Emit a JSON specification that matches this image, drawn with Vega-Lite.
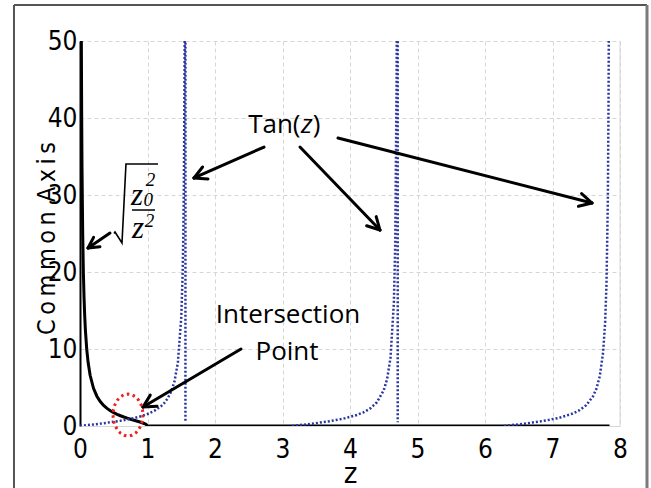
{
  "$schema": "https://vega.github.io/schema/vega-lite/v6.json",
  "width": 540,
  "height": 385,
  "autosize": {"type": "none"},
  "padding": {"left": 80, "top": 41, "right": 31, "bottom": 62},
  "background": "white",
  "config": {"view": {"stroke": null}},
  "datasets": {
    "edge": [{"x": 8, "y": 0, "x2": 8, "y2": 50}],
    "sqrtc": [
      {"x": 0.0195, "y": 51.3}, {"x": 0.02, "y": 49.99}, {"x": 0.025, "y": 39.99}, {"x": 0.03, "y": 33.32},
      {"x": 0.04, "y": 24.98}, {"x": 0.05, "y": 19.97}, {"x": 0.06, "y": 16.64}, {"x": 0.07, "y": 14.25},
      {"x": 0.08, "y": 12.46}, {"x": 0.1, "y": 9.95}, {"x": 0.12, "y": 8.27}, {"x": 0.15, "y": 6.59},
      {"x": 0.2, "y": 4.9}, {"x": 0.25, "y": 3.87}, {"x": 0.3, "y": 3.18}, {"x": 0.35, "y": 2.68},
      {"x": 0.4, "y": 2.29}, {"x": 0.45, "y": 1.98}, {"x": 0.5, "y": 1.732}, {"x": 0.55, "y": 1.518},
      {"x": 0.6, "y": 1.333}, {"x": 0.65, "y": 1.169}, {"x": 0.7, "y": 1.02}, {"x": 0.75, "y": 0.882},
      {"x": 0.8, "y": 0.75}, {"x": 0.85, "y": 0.62}, {"x": 0.9, "y": 0.484}, {"x": 0.95, "y": 0.329},
      {"x": 0.98, "y": 0.203}, {"x": 1.0, "y": 0}, {"x": 7.845, "y": 0}
    ],
    "tan": [
      {"b": 1, "i": 1, "x": 0, "y": 0}, {"b": 1, "i": 2, "x": 0.1, "y": 0.1003}, {"b": 1, "i": 3, "x": 0.2, "y": 0.2027},
      {"b": 1, "i": 4, "x": 0.3, "y": 0.3093}, {"b": 1, "i": 5, "x": 0.4, "y": 0.4228}, {"b": 1, "i": 6, "x": 0.5, "y": 0.5463},
      {"b": 1, "i": 7, "x": 0.6, "y": 0.6841}, {"b": 1, "i": 8, "x": 0.7, "y": 0.8423}, {"b": 1, "i": 9, "x": 0.8, "y": 1.0296},
      {"b": 1, "i": 10, "x": 0.9, "y": 1.2602}, {"b": 1, "i": 11, "x": 1.0, "y": 1.5574}, {"b": 1, "i": 12, "x": 1.1, "y": 1.9648},
      {"b": 1, "i": 13, "x": 1.2, "y": 2.5722}, {"b": 1, "i": 14, "x": 1.25, "y": 3.0096}, {"b": 1, "i": 15, "x": 1.3, "y": 3.6021},
      {"b": 1, "i": 16, "x": 1.35, "y": 4.4552}, {"b": 1, "i": 17, "x": 1.4, "y": 5.7979}, {"b": 1, "i": 18, "x": 1.45, "y": 8.2381},
      {"b": 1, "i": 19, "x": 1.5, "y": 14.1014}, {"b": 1, "i": 20, "x": 1.52, "y": 19.6695}, {"b": 1, "i": 21, "x": 1.53, "y": 24.4984},
      {"b": 1, "i": 22, "x": 1.54, "y": 32.4611}, {"b": 1, "i": 23, "x": 1.55, "y": 48.0785}, {"b": 1, "i": 24, "x": 1.556, "y": 67.6},
      {"b": 1, "i": 25, "x": 1.562, "y": 116}, {"b": 1, "i": 26, "x": 1.562, "y": 0.5},
      {"b": 2, "i": 1, "x": 3.1416, "y": 0}, {"b": 2, "i": 2, "x": 3.3, "y": 0.1597}, {"b": 2, "i": 3, "x": 3.5, "y": 0.3746},
      {"b": 2, "i": 4, "x": 3.7, "y": 0.6247}, {"b": 2, "i": 5, "x": 3.9, "y": 0.9473}, {"b": 2, "i": 6, "x": 4.1, "y": 1.4232},
      {"b": 2, "i": 7, "x": 4.2, "y": 1.7752}, {"b": 2, "i": 8, "x": 4.3, "y": 2.2818}, {"b": 2, "i": 9, "x": 4.4, "y": 3.0957},
      {"b": 2, "i": 10, "x": 4.5, "y": 4.637}, {"b": 2, "i": 11, "x": 4.55, "y": 6.105}, {"b": 2, "i": 12, "x": 4.6, "y": 8.857},
      {"b": 2, "i": 13, "x": 4.65, "y": 16.0}, {"b": 2, "i": 14, "x": 4.67, "y": 23.57}, {"b": 2, "i": 15, "x": 4.69, "y": 44.6},
      {"b": 2, "i": 16, "x": 4.695, "y": 57.5}, {"b": 2, "i": 17, "x": 4.7, "y": 78}, {"b": 2, "i": 18, "x": 4.707, "y": 120},
      {"b": 2, "i": 19, "x": 4.707, "y": 0.5},
      {"b": 3, "i": 1, "x": 6.2832, "y": 0}, {"b": 3, "i": 2, "x": 6.5, "y": 0.2203}, {"b": 3, "i": 3, "x": 6.7, "y": 0.443},
      {"b": 3, "i": 4, "x": 6.9, "y": 0.7095}, {"b": 3, "i": 5, "x": 7.1, "y": 1.0645}, {"b": 3, "i": 6, "x": 7.3, "y": 1.616},
      {"b": 3, "i": 7, "x": 7.4, "y": 2.048}, {"b": 3, "i": 8, "x": 7.5, "y": 2.706}, {"b": 3, "i": 9, "x": 7.6, "y": 3.852},
      {"b": 3, "i": 10, "x": 7.65, "y": 4.833}, {"b": 3, "i": 11, "x": 7.7, "y": 6.443}, {"b": 3, "i": 12, "x": 7.75, "y": 9.58},
      {"b": 3, "i": 13, "x": 7.78, "y": 13.49}, {"b": 3, "i": 14, "x": 7.8, "y": 18.5}, {"b": 3, "i": 15, "x": 7.82, "y": 29.4},
      {"b": 3, "i": 16, "x": 7.83, "y": 41.7}, {"b": 3, "i": 17, "x": 7.835, "y": 52.6}
    ],
    "arrows": [
      {"x": 2.726, "y": 36.23, "x2": 1.689, "y2": 32.21},
      {"x": 1.689, "y": 32.21, "x2": 1.896, "y2": 32.08},
      {"x": 1.689, "y": 32.21, "x2": 1.816, "y2": 33.64},
      {"x": 3.259, "y": 36.23, "x2": 4.444, "y2": 25.45},
      {"x": 4.444, "y": 25.45, "x2": 4.388, "y2": 27.19},
      {"x": 4.444, "y": 25.45, "x2": 4.247, "y2": 26.01},
      {"x": 3.822, "y": 37.4, "x2": 7.585, "y2": 28.96},
      {"x": 7.585, "y": 28.96, "x2": 7.431, "y2": 30.18},
      {"x": 7.585, "y": 28.96, "x2": 7.384, "y2": 28.53},
      {"x": 0.444, "y": 25.06, "x2": 0.119, "y2": 23.12},
      {"x": 0.119, "y": 23.12, "x2": 0.295, "y2": 23.29},
      {"x": 0.119, "y": 23.12, "x2": 0.201, "y2": 24.49},
      {"x": 2.385, "y": 10.0, "x2": 0.933, "y2": 2.47},
      {"x": 0.933, "y": 2.47, "x2": 1.141, "y2": 2.55},
      {"x": 0.933, "y": 2.47, "x2": 1.041, "y2": 4.01}
    ],
    "radical": [
      {"i": 1, "x": 0.505, "y": 25.0}, {"i": 2, "x": 0.519, "y": 25.19}, {"i": 3, "x": 0.622, "y": 23.77},
      {"i": 4, "x": 0.681, "y": 34.03}, {"i": 5, "x": 1.156, "y": 34.03}
    ],
    "fracbar": [{"x": 0.77, "y": 28.05, "x2": 1.111, "y2": 28.05}],
    "labels": [
      {"role": "plain", "t": "Intersection", "x": 3.081, "y": 14.42},
      {"role": "plain", "t": "Point", "x": 3.067, "y": 9.61},
      {"role": "tanL", "t": "Tan(", "x": 3.267, "y": 39.09},
      {"role": "tanZ", "t": "z", "x": 3.359, "y": 39.09},
      {"role": "tanR", "t": ")", "x": 3.449, "y": 39.09},
      {"role": "fz", "t": "z", "x": 0.845, "y": 29.9},
      {"role": "fz", "t": "z", "x": 0.86, "y": 25.6},
      {"role": "fd", "t": "2", "x": 1.045, "y": 31.9},
      {"role": "fd", "t": "0", "x": 1.01, "y": 29.3},
      {"role": "fd", "t": "2", "x": 1.03, "y": 26.6}
    ],
    "ellipse": [{"x": 0.711, "y": 1.43}],
    "frame": [
      {"x": -0.978, "y": -8.5, "x2": -0.978, "y2": 54.68},
      {"x": -0.978, "y": 54.68, "x2": 8.4, "y2": 54.68}
    ],
    "frameR": [{"x": 8.4, "y": -8.5, "x2": 8.4, "y2": 54.68}]
  },
  "encoding": {
    "x": {
      "field": "x", "type": "quantitative",
      "scale": {"domain": [0, 8], "nice": false, "zero": false},
      "axis": {
        "values": [0, 1, 2, 3, 4, 5, 6, 7, 8],
        "grid": true, "gridColor": "#d6d6d6", "gridDash": [4, 3], "gridWidth": 1,
        "domainColor": "#d6d6d6", "domainWidth": 1, "ticks": false,
        "labelFont": "Liberation Sans Narrow, Arial Narrow, DejaVu Sans Condensed, sans-serif",
        "labelFontSize": 26, "labelColor": "black", "labelPadding": 10,
        "labelFlush": false, "labelOverlap": false,
        "title": "z",
        "titleFont": "Liberation Sans Narrow, Arial Narrow, DejaVu Sans Condensed, sans-serif",
        "titleFontSize": 29, "titleFontWeight": "normal", "titleColor": "black",
        "titleBaseline": "bottom", "titleY": 62, "titleX": 270
      }
    },
    "y": {
      "field": "y", "type": "quantitative",
      "scale": {"domain": [0, 50], "nice": false},
      "axis": {
        "values": [0, 10, 20, 30, 40, 50],
        "grid": true, "gridColor": "#d6d6d6", "gridDash": [4, 3], "gridWidth": 1,
        "domainColor": "black", "domainWidth": 2, "ticks": false,
        "labelFont": "Liberation Sans Narrow, Arial Narrow, DejaVu Sans Condensed, sans-serif",
        "labelFontSize": 26, "labelColor": "black", "labelPadding": 3,
        "labelOverlap": false, "labelFlush": false,
        "title": "C\u2009o\u2009m\u2009m\u2009o\u2009n\u2009\u2009A\u2009x\u2009i\u2009s",
        "titleFont": "Liberation Sans Narrow, Arial Narrow, DejaVu Sans Condensed, sans-serif",
        "titleFontSize": 25, "titleFontWeight": "normal", "titleColor": "black",
        "titleAngle": -90, "titleAlign": "center", "titleBaseline": "middle",
        "titleX": -34, "titleY": 197
      }
    }
  },
  "layer": [
    {"data": {"name": "edge"}, "mark": {"type": "rule", "color": "#d6d6d6", "strokeWidth": 1},
     "encoding": {"x2": {"field": "x2"}, "y2": {"field": "y2"}}},
    {"data": {"name": "sqrtc"}, "mark": {"type": "line", "color": "black", "strokeWidth": 3, "clip": true}, "encoding": {}},
    {"data": {"name": "tan"}, "mark": {"type": "line", "color": "#2a36a0", "strokeWidth": 2.5, "strokeDash": [2, 2], "clip": true},
     "encoding": {"detail": {"field": "b"}, "order": {"field": "i"}}},
    {"data": {"name": "arrows"}, "mark": {"type": "rule", "color": "black", "strokeWidth": 3, "strokeCap": "round"},
     "encoding": {"x2": {"field": "x2"}, "y2": {"field": "y2"}}},
    {"data": {"name": "radical"}, "mark": {"type": "line", "color": "black", "strokeWidth": 1.6},
     "encoding": {"order": {"field": "i"}}},
    {"data": {"name": "fracbar"}, "mark": {"type": "rule", "color": "black", "strokeWidth": 1.5},
     "encoding": {"x2": {"field": "x2"}, "y2": {"field": "y2"}}},
    {"data": {"name": "labels"}, "transform": [{"filter": "datum.role === 'plain'"}],
     "mark": {"type": "text", "font": "Open Sans", "fontSize": 26, "color": "black", "align": "center", "baseline": "middle"},
     "encoding": {"text": {"field": "t"}}},
    {"data": {"name": "labels"}, "transform": [{"filter": "datum.role === 'tanL'"}],
     "mark": {"type": "text", "font": "Open Sans", "fontSize": 26, "color": "black", "align": "right", "baseline": "middle"},
     "encoding": {"text": {"field": "t"}}},
    {"data": {"name": "labels"}, "transform": [{"filter": "datum.role === 'tanZ'"}],
     "mark": {"type": "text", "font": "Open Sans", "fontStyle": "italic", "fontSize": 26, "color": "black", "align": "center", "baseline": "middle"},
     "encoding": {"text": {"field": "t"}}},
    {"data": {"name": "labels"}, "transform": [{"filter": "datum.role === 'tanR'"}],
     "mark": {"type": "text", "font": "Open Sans", "fontSize": 26, "color": "black", "align": "left", "baseline": "middle"},
     "encoding": {"text": {"field": "t"}}},
    {"data": {"name": "labels"}, "transform": [{"filter": "datum.role === 'fz'"}],
     "mark": {"type": "text", "font": "Liberation Serif", "fontStyle": "italic", "fontSize": 31, "color": "black", "align": "center", "baseline": "middle"},
     "encoding": {"text": {"field": "t"}}},
    {"data": {"name": "labels"}, "transform": [{"filter": "datum.role === 'fd'"}],
     "mark": {"type": "text", "font": "Liberation Serif", "fontStyle": "italic", "fontSize": 19, "color": "black", "align": "center", "baseline": "middle"},
     "encoding": {"text": {"field": "t"}}},
    {"data": {"name": "ellipse"},
     "mark": {"type": "point", "filled": false, "color": "#f01e1e", "strokeWidth": 3, "strokeDash": [2.5, 3.5], "size": 1764, "opacity": 1,
              "shape": "M0.714,0L0.69,0.259L0.618,0.5L0.505,0.707L0.357,0.866L0.185,0.966L0,1L-0.185,0.966L-0.357,0.866L-0.505,0.707L-0.618,0.5L-0.69,0.259L-0.714,0L-0.69,-0.259L-0.618,-0.5L-0.505,-0.707L-0.357,-0.866L-0.185,-0.966L0,-1L0.185,-0.966L0.357,-0.866L0.505,-0.707L0.618,-0.5L0.69,-0.259Z"},
     "encoding": {}},
    {"data": {"name": "frame"}, "mark": {"type": "rule", "color": "#555555", "strokeWidth": 2, "clip": false},
     "encoding": {"x2": {"field": "x2"}, "y2": {"field": "y2"}}},
    {"data": {"name": "frameR"}, "mark": {"type": "rule", "color": "#7a7a7a", "strokeWidth": 3, "clip": false},
     "encoding": {"x2": {"field": "x2"}, "y2": {"field": "y2"}}}
  ]
}
